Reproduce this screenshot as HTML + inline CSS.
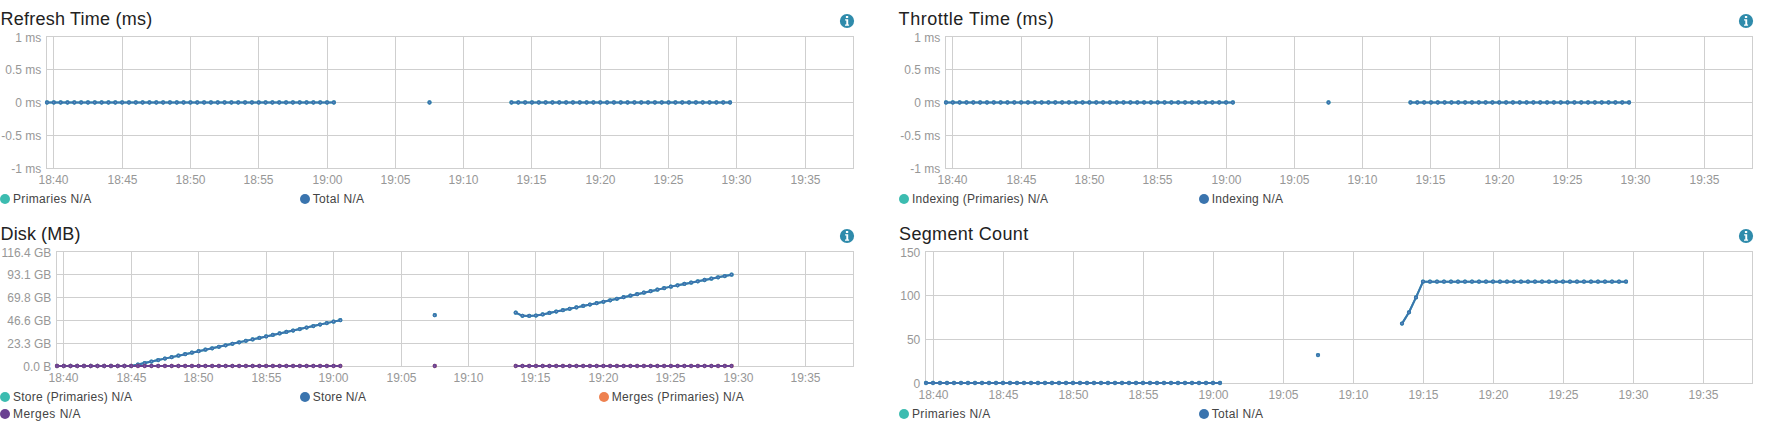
<!DOCTYPE html>
<html lang="en"><head><meta charset="utf-8"><title>Index statistics</title>
<style>
html,body{margin:0;padding:0;background:#fff}
body{width:1769px;height:438px;position:relative;overflow:hidden;font-family:"Liberation Sans",Arial,sans-serif;color:#444}
.panel{position:absolute;width:899px;height:223px}
.title{position:absolute;left:0.6px;top:9px;margin:0;font-size:18px;line-height:20px;font-weight:normal;color:#222;white-space:nowrap}
.info{position:absolute;left:839px;top:13px}
.plot{position:absolute;left:0;top:0;overflow:visible}
.tick text{font-family:"Liberation Sans",Arial,sans-serif;font-size:12px}
.legend{position:absolute;left:0;margin:0;padding:0;list-style:none;font-size:12px;line-height:14px;color:#444}
.legend li{position:absolute;white-space:nowrap;height:14px}
.legend i{position:absolute;left:0;top:2px;width:10px;height:10px;border-radius:50%}
.legend span{position:absolute;left:13px;top:0}
</style></head><body>
<section class="panel" style="left:0px;top:0px">
<h4 class="title" style="left:0.6px;letter-spacing:0.22px">Refresh Time (ms)</h4>
<svg class="info" width="16" height="16" viewBox="0 0 16 16"><circle cx="8" cy="8" r="7.1" fill="#2f8bab"/><path d="M6.9 2.9h2.3v2H6.9z M6.1 6.2h3.1v5.3h0.9v1.3H6v-1.3h1.3V7.6H6.1z" fill="#fff"/></svg>
<svg class="plot" width="899" height="223" viewBox="0 0 899 223">
<path d="M53.5 37V168M122.5 37V168M190.5 37V168M258.5 37V168M327.5 37V168M395.5 37V168M463.5 37V168M531.5 37V168M600.5 37V168M668.5 37V168M736.5 37V168M805.5 37V168M47 69.5H853M47 102.5H853M47 135.5H853" stroke="#cfcfcf" stroke-width="1" fill="none" shape-rendering="crispEdges"/>
<rect x="46.5" y="36.5" width="807" height="132" fill="none" stroke="#cfcfcf" stroke-width="1" shape-rendering="crispEdges"/>
<path d="M47.00 102.50L53.83 102.50L60.66 102.50L67.49 102.50L74.32 102.50L81.15 102.50L87.98 102.50L94.81 102.50L101.64 102.50L108.47 102.50L115.31 102.50L122.14 102.50L128.97 102.50L135.80 102.50L142.63 102.50L149.46 102.50L156.29 102.50L163.12 102.50L169.95 102.50L176.78 102.50L183.61 102.50L190.44 102.50L197.27 102.50L204.10 102.50L210.93 102.50L217.76 102.50L224.59 102.50L231.42 102.50L238.25 102.50L245.08 102.50L251.92 102.50L258.75 102.50L265.58 102.50L272.41 102.50L279.24 102.50L286.07 102.50L292.90 102.50L299.73 102.50L306.56 102.50L313.39 102.50L320.22 102.50L327.05 102.50L333.88 102.50" stroke="#3cbcb0" stroke-width="2" fill="none" stroke-linejoin="round"/>
<path d="M511.47 102.50L518.31 102.50L525.14 102.50L531.97 102.50L538.80 102.50L545.63 102.50L552.46 102.50L559.29 102.50L566.12 102.50L572.95 102.50L579.78 102.50L586.61 102.50L593.44 102.50L600.27 102.50L607.10 102.50L613.93 102.50L620.76 102.50L627.59 102.50L634.42 102.50L641.25 102.50L648.08 102.50L654.92 102.50L661.75 102.50L668.58 102.50L675.41 102.50L682.24 102.50L689.07 102.50L695.90 102.50L702.73 102.50L709.56 102.50L716.39 102.50L723.22 102.50L730.05 102.50" stroke="#3cbcb0" stroke-width="2" fill="none" stroke-linejoin="round"/>
<g fill="#fff" stroke="#3cbcb0" stroke-width="1.78"><circle cx="47.00" cy="102.50" r="1.24"/><circle cx="53.83" cy="102.50" r="1.24"/><circle cx="60.66" cy="102.50" r="1.24"/><circle cx="67.49" cy="102.50" r="1.24"/><circle cx="74.32" cy="102.50" r="1.24"/><circle cx="81.15" cy="102.50" r="1.24"/><circle cx="87.98" cy="102.50" r="1.24"/><circle cx="94.81" cy="102.50" r="1.24"/><circle cx="101.64" cy="102.50" r="1.24"/><circle cx="108.47" cy="102.50" r="1.24"/><circle cx="115.31" cy="102.50" r="1.24"/><circle cx="122.14" cy="102.50" r="1.24"/><circle cx="128.97" cy="102.50" r="1.24"/><circle cx="135.80" cy="102.50" r="1.24"/><circle cx="142.63" cy="102.50" r="1.24"/><circle cx="149.46" cy="102.50" r="1.24"/><circle cx="156.29" cy="102.50" r="1.24"/><circle cx="163.12" cy="102.50" r="1.24"/><circle cx="169.95" cy="102.50" r="1.24"/><circle cx="176.78" cy="102.50" r="1.24"/><circle cx="183.61" cy="102.50" r="1.24"/><circle cx="190.44" cy="102.50" r="1.24"/><circle cx="197.27" cy="102.50" r="1.24"/><circle cx="204.10" cy="102.50" r="1.24"/><circle cx="210.93" cy="102.50" r="1.24"/><circle cx="217.76" cy="102.50" r="1.24"/><circle cx="224.59" cy="102.50" r="1.24"/><circle cx="231.42" cy="102.50" r="1.24"/><circle cx="238.25" cy="102.50" r="1.24"/><circle cx="245.08" cy="102.50" r="1.24"/><circle cx="251.92" cy="102.50" r="1.24"/><circle cx="258.75" cy="102.50" r="1.24"/><circle cx="265.58" cy="102.50" r="1.24"/><circle cx="272.41" cy="102.50" r="1.24"/><circle cx="279.24" cy="102.50" r="1.24"/><circle cx="286.07" cy="102.50" r="1.24"/><circle cx="292.90" cy="102.50" r="1.24"/><circle cx="299.73" cy="102.50" r="1.24"/><circle cx="306.56" cy="102.50" r="1.24"/><circle cx="313.39" cy="102.50" r="1.24"/><circle cx="320.22" cy="102.50" r="1.24"/><circle cx="327.05" cy="102.50" r="1.24"/><circle cx="333.88" cy="102.50" r="1.24"/><circle cx="429.51" cy="102.50" r="1.24"/><circle cx="511.47" cy="102.50" r="1.24"/><circle cx="518.31" cy="102.50" r="1.24"/><circle cx="525.14" cy="102.50" r="1.24"/><circle cx="531.97" cy="102.50" r="1.24"/><circle cx="538.80" cy="102.50" r="1.24"/><circle cx="545.63" cy="102.50" r="1.24"/><circle cx="552.46" cy="102.50" r="1.24"/><circle cx="559.29" cy="102.50" r="1.24"/><circle cx="566.12" cy="102.50" r="1.24"/><circle cx="572.95" cy="102.50" r="1.24"/><circle cx="579.78" cy="102.50" r="1.24"/><circle cx="586.61" cy="102.50" r="1.24"/><circle cx="593.44" cy="102.50" r="1.24"/><circle cx="600.27" cy="102.50" r="1.24"/><circle cx="607.10" cy="102.50" r="1.24"/><circle cx="613.93" cy="102.50" r="1.24"/><circle cx="620.76" cy="102.50" r="1.24"/><circle cx="627.59" cy="102.50" r="1.24"/><circle cx="634.42" cy="102.50" r="1.24"/><circle cx="641.25" cy="102.50" r="1.24"/><circle cx="648.08" cy="102.50" r="1.24"/><circle cx="654.92" cy="102.50" r="1.24"/><circle cx="661.75" cy="102.50" r="1.24"/><circle cx="668.58" cy="102.50" r="1.24"/><circle cx="675.41" cy="102.50" r="1.24"/><circle cx="682.24" cy="102.50" r="1.24"/><circle cx="689.07" cy="102.50" r="1.24"/><circle cx="695.90" cy="102.50" r="1.24"/><circle cx="702.73" cy="102.50" r="1.24"/><circle cx="709.56" cy="102.50" r="1.24"/><circle cx="716.39" cy="102.50" r="1.24"/><circle cx="723.22" cy="102.50" r="1.24"/><circle cx="730.05" cy="102.50" r="1.24"/></g>
<path d="M47.00 102.50L53.83 102.50L60.66 102.50L67.49 102.50L74.32 102.50L81.15 102.50L87.98 102.50L94.81 102.50L101.64 102.50L108.47 102.50L115.31 102.50L122.14 102.50L128.97 102.50L135.80 102.50L142.63 102.50L149.46 102.50L156.29 102.50L163.12 102.50L169.95 102.50L176.78 102.50L183.61 102.50L190.44 102.50L197.27 102.50L204.10 102.50L210.93 102.50L217.76 102.50L224.59 102.50L231.42 102.50L238.25 102.50L245.08 102.50L251.92 102.50L258.75 102.50L265.58 102.50L272.41 102.50L279.24 102.50L286.07 102.50L292.90 102.50L299.73 102.50L306.56 102.50L313.39 102.50L320.22 102.50L327.05 102.50L333.88 102.50" stroke="#3a74ae" stroke-width="2" fill="none" stroke-linejoin="round"/>
<path d="M511.47 102.50L518.31 102.50L525.14 102.50L531.97 102.50L538.80 102.50L545.63 102.50L552.46 102.50L559.29 102.50L566.12 102.50L572.95 102.50L579.78 102.50L586.61 102.50L593.44 102.50L600.27 102.50L607.10 102.50L613.93 102.50L620.76 102.50L627.59 102.50L634.42 102.50L641.25 102.50L648.08 102.50L654.92 102.50L661.75 102.50L668.58 102.50L675.41 102.50L682.24 102.50L689.07 102.50L695.90 102.50L702.73 102.50L709.56 102.50L716.39 102.50L723.22 102.50L730.05 102.50" stroke="#3a74ae" stroke-width="2" fill="none" stroke-linejoin="round"/>
<g fill="#fff" stroke="#3a74ae" stroke-width="1.78"><circle cx="47.00" cy="102.50" r="1.24"/><circle cx="53.83" cy="102.50" r="1.24"/><circle cx="60.66" cy="102.50" r="1.24"/><circle cx="67.49" cy="102.50" r="1.24"/><circle cx="74.32" cy="102.50" r="1.24"/><circle cx="81.15" cy="102.50" r="1.24"/><circle cx="87.98" cy="102.50" r="1.24"/><circle cx="94.81" cy="102.50" r="1.24"/><circle cx="101.64" cy="102.50" r="1.24"/><circle cx="108.47" cy="102.50" r="1.24"/><circle cx="115.31" cy="102.50" r="1.24"/><circle cx="122.14" cy="102.50" r="1.24"/><circle cx="128.97" cy="102.50" r="1.24"/><circle cx="135.80" cy="102.50" r="1.24"/><circle cx="142.63" cy="102.50" r="1.24"/><circle cx="149.46" cy="102.50" r="1.24"/><circle cx="156.29" cy="102.50" r="1.24"/><circle cx="163.12" cy="102.50" r="1.24"/><circle cx="169.95" cy="102.50" r="1.24"/><circle cx="176.78" cy="102.50" r="1.24"/><circle cx="183.61" cy="102.50" r="1.24"/><circle cx="190.44" cy="102.50" r="1.24"/><circle cx="197.27" cy="102.50" r="1.24"/><circle cx="204.10" cy="102.50" r="1.24"/><circle cx="210.93" cy="102.50" r="1.24"/><circle cx="217.76" cy="102.50" r="1.24"/><circle cx="224.59" cy="102.50" r="1.24"/><circle cx="231.42" cy="102.50" r="1.24"/><circle cx="238.25" cy="102.50" r="1.24"/><circle cx="245.08" cy="102.50" r="1.24"/><circle cx="251.92" cy="102.50" r="1.24"/><circle cx="258.75" cy="102.50" r="1.24"/><circle cx="265.58" cy="102.50" r="1.24"/><circle cx="272.41" cy="102.50" r="1.24"/><circle cx="279.24" cy="102.50" r="1.24"/><circle cx="286.07" cy="102.50" r="1.24"/><circle cx="292.90" cy="102.50" r="1.24"/><circle cx="299.73" cy="102.50" r="1.24"/><circle cx="306.56" cy="102.50" r="1.24"/><circle cx="313.39" cy="102.50" r="1.24"/><circle cx="320.22" cy="102.50" r="1.24"/><circle cx="327.05" cy="102.50" r="1.24"/><circle cx="333.88" cy="102.50" r="1.24"/><circle cx="429.51" cy="102.50" r="1.24"/><circle cx="511.47" cy="102.50" r="1.24"/><circle cx="518.31" cy="102.50" r="1.24"/><circle cx="525.14" cy="102.50" r="1.24"/><circle cx="531.97" cy="102.50" r="1.24"/><circle cx="538.80" cy="102.50" r="1.24"/><circle cx="545.63" cy="102.50" r="1.24"/><circle cx="552.46" cy="102.50" r="1.24"/><circle cx="559.29" cy="102.50" r="1.24"/><circle cx="566.12" cy="102.50" r="1.24"/><circle cx="572.95" cy="102.50" r="1.24"/><circle cx="579.78" cy="102.50" r="1.24"/><circle cx="586.61" cy="102.50" r="1.24"/><circle cx="593.44" cy="102.50" r="1.24"/><circle cx="600.27" cy="102.50" r="1.24"/><circle cx="607.10" cy="102.50" r="1.24"/><circle cx="613.93" cy="102.50" r="1.24"/><circle cx="620.76" cy="102.50" r="1.24"/><circle cx="627.59" cy="102.50" r="1.24"/><circle cx="634.42" cy="102.50" r="1.24"/><circle cx="641.25" cy="102.50" r="1.24"/><circle cx="648.08" cy="102.50" r="1.24"/><circle cx="654.92" cy="102.50" r="1.24"/><circle cx="661.75" cy="102.50" r="1.24"/><circle cx="668.58" cy="102.50" r="1.24"/><circle cx="675.41" cy="102.50" r="1.24"/><circle cx="682.24" cy="102.50" r="1.24"/><circle cx="689.07" cy="102.50" r="1.24"/><circle cx="695.90" cy="102.50" r="1.24"/><circle cx="702.73" cy="102.50" r="1.24"/><circle cx="709.56" cy="102.50" r="1.24"/><circle cx="716.39" cy="102.50" r="1.24"/><circle cx="723.22" cy="102.50" r="1.24"/><circle cx="730.05" cy="102.50" r="1.24"/></g>
<g class="tick" fill="#979797">
<text x="41.3" y="41.50" text-anchor="end" style="letter-spacing:0px">1 ms</text>
<text x="41.3" y="74.25" text-anchor="end" style="letter-spacing:0px">0.5 ms</text>
<text x="41.3" y="107.00" text-anchor="end" style="letter-spacing:0px">0 ms</text>
<text x="41.3" y="139.75" text-anchor="end" style="letter-spacing:0px">-0.5 ms</text>
<text x="41.3" y="172.50" text-anchor="end" style="letter-spacing:0px">-1 ms</text>
<text x="53.50" y="184" text-anchor="middle" style="letter-spacing:0px">18:40</text>
<text x="122.50" y="184" text-anchor="middle" style="letter-spacing:0px">18:45</text>
<text x="190.50" y="184" text-anchor="middle" style="letter-spacing:0px">18:50</text>
<text x="258.50" y="184" text-anchor="middle" style="letter-spacing:0px">18:55</text>
<text x="327.50" y="184" text-anchor="middle" style="letter-spacing:0px">19:00</text>
<text x="395.50" y="184" text-anchor="middle" style="letter-spacing:0px">19:05</text>
<text x="463.50" y="184" text-anchor="middle" style="letter-spacing:0px">19:10</text>
<text x="531.50" y="184" text-anchor="middle" style="letter-spacing:0px">19:15</text>
<text x="600.50" y="184" text-anchor="middle" style="letter-spacing:0px">19:20</text>
<text x="668.50" y="184" text-anchor="middle" style="letter-spacing:0px">19:25</text>
<text x="736.50" y="184" text-anchor="middle" style="letter-spacing:0px">19:30</text>
<text x="805.50" y="184" text-anchor="middle" style="letter-spacing:0px">19:35</text>
</g>
</svg>
<ul class="legend" style="top:192px">
<li style="left:0px;top:0px"><i style="background:#3cbcb0"></i><span style="letter-spacing:0.35px">Primaries N/A</span></li>
<li style="left:299.8px;top:0px"><i style="background:#3a74ae"></i><span style="letter-spacing:0.32px">Total N/A</span></li>
</ul>
</section>
<section class="panel" style="left:899px;top:0px">
<h4 class="title" style="left:-0.4px;letter-spacing:0.53px">Throttle Time (ms)</h4>
<svg class="info" width="16" height="16" viewBox="0 0 16 16"><circle cx="8" cy="8" r="7.1" fill="#2f8bab"/><path d="M6.9 2.9h2.3v2H6.9z M6.1 6.2h3.1v5.3h0.9v1.3H6v-1.3h1.3V7.6H6.1z" fill="#fff"/></svg>
<svg class="plot" width="899" height="223" viewBox="899 0 899 223">
<path d="M952.5 37V168M1021.5 37V168M1089.5 37V168M1157.5 37V168M1226.5 37V168M1294.5 37V168M1362.5 37V168M1430.5 37V168M1499.5 37V168M1567.5 37V168M1635.5 37V168M1704.5 37V168M946 69.5H1752M946 102.5H1752M946 135.5H1752" stroke="#cfcfcf" stroke-width="1" fill="none" shape-rendering="crispEdges"/>
<rect x="945.5" y="36.5" width="807" height="132" fill="none" stroke="#cfcfcf" stroke-width="1" shape-rendering="crispEdges"/>
<path d="M946.00 102.50L952.83 102.50L959.66 102.50L966.49 102.50L973.32 102.50L980.15 102.50L986.98 102.50L993.81 102.50L1000.64 102.50L1007.47 102.50L1014.31 102.50L1021.14 102.50L1027.97 102.50L1034.80 102.50L1041.63 102.50L1048.46 102.50L1055.29 102.50L1062.12 102.50L1068.95 102.50L1075.78 102.50L1082.61 102.50L1089.44 102.50L1096.27 102.50L1103.10 102.50L1109.93 102.50L1116.76 102.50L1123.59 102.50L1130.42 102.50L1137.25 102.50L1144.08 102.50L1150.92 102.50L1157.75 102.50L1164.58 102.50L1171.41 102.50L1178.24 102.50L1185.07 102.50L1191.90 102.50L1198.73 102.50L1205.56 102.50L1212.39 102.50L1219.22 102.50L1226.05 102.50L1232.88 102.50" stroke="#3cbcb0" stroke-width="2" fill="none" stroke-linejoin="round"/>
<path d="M1410.47 102.50L1417.31 102.50L1424.14 102.50L1430.97 102.50L1437.80 102.50L1444.63 102.50L1451.46 102.50L1458.29 102.50L1465.12 102.50L1471.95 102.50L1478.78 102.50L1485.61 102.50L1492.44 102.50L1499.27 102.50L1506.10 102.50L1512.93 102.50L1519.76 102.50L1526.59 102.50L1533.42 102.50L1540.25 102.50L1547.08 102.50L1553.92 102.50L1560.75 102.50L1567.58 102.50L1574.41 102.50L1581.24 102.50L1588.07 102.50L1594.90 102.50L1601.73 102.50L1608.56 102.50L1615.39 102.50L1622.22 102.50L1629.05 102.50" stroke="#3cbcb0" stroke-width="2" fill="none" stroke-linejoin="round"/>
<g fill="#fff" stroke="#3cbcb0" stroke-width="1.78"><circle cx="946.00" cy="102.50" r="1.24"/><circle cx="952.83" cy="102.50" r="1.24"/><circle cx="959.66" cy="102.50" r="1.24"/><circle cx="966.49" cy="102.50" r="1.24"/><circle cx="973.32" cy="102.50" r="1.24"/><circle cx="980.15" cy="102.50" r="1.24"/><circle cx="986.98" cy="102.50" r="1.24"/><circle cx="993.81" cy="102.50" r="1.24"/><circle cx="1000.64" cy="102.50" r="1.24"/><circle cx="1007.47" cy="102.50" r="1.24"/><circle cx="1014.31" cy="102.50" r="1.24"/><circle cx="1021.14" cy="102.50" r="1.24"/><circle cx="1027.97" cy="102.50" r="1.24"/><circle cx="1034.80" cy="102.50" r="1.24"/><circle cx="1041.63" cy="102.50" r="1.24"/><circle cx="1048.46" cy="102.50" r="1.24"/><circle cx="1055.29" cy="102.50" r="1.24"/><circle cx="1062.12" cy="102.50" r="1.24"/><circle cx="1068.95" cy="102.50" r="1.24"/><circle cx="1075.78" cy="102.50" r="1.24"/><circle cx="1082.61" cy="102.50" r="1.24"/><circle cx="1089.44" cy="102.50" r="1.24"/><circle cx="1096.27" cy="102.50" r="1.24"/><circle cx="1103.10" cy="102.50" r="1.24"/><circle cx="1109.93" cy="102.50" r="1.24"/><circle cx="1116.76" cy="102.50" r="1.24"/><circle cx="1123.59" cy="102.50" r="1.24"/><circle cx="1130.42" cy="102.50" r="1.24"/><circle cx="1137.25" cy="102.50" r="1.24"/><circle cx="1144.08" cy="102.50" r="1.24"/><circle cx="1150.92" cy="102.50" r="1.24"/><circle cx="1157.75" cy="102.50" r="1.24"/><circle cx="1164.58" cy="102.50" r="1.24"/><circle cx="1171.41" cy="102.50" r="1.24"/><circle cx="1178.24" cy="102.50" r="1.24"/><circle cx="1185.07" cy="102.50" r="1.24"/><circle cx="1191.90" cy="102.50" r="1.24"/><circle cx="1198.73" cy="102.50" r="1.24"/><circle cx="1205.56" cy="102.50" r="1.24"/><circle cx="1212.39" cy="102.50" r="1.24"/><circle cx="1219.22" cy="102.50" r="1.24"/><circle cx="1226.05" cy="102.50" r="1.24"/><circle cx="1232.88" cy="102.50" r="1.24"/><circle cx="1328.51" cy="102.50" r="1.24"/><circle cx="1410.47" cy="102.50" r="1.24"/><circle cx="1417.31" cy="102.50" r="1.24"/><circle cx="1424.14" cy="102.50" r="1.24"/><circle cx="1430.97" cy="102.50" r="1.24"/><circle cx="1437.80" cy="102.50" r="1.24"/><circle cx="1444.63" cy="102.50" r="1.24"/><circle cx="1451.46" cy="102.50" r="1.24"/><circle cx="1458.29" cy="102.50" r="1.24"/><circle cx="1465.12" cy="102.50" r="1.24"/><circle cx="1471.95" cy="102.50" r="1.24"/><circle cx="1478.78" cy="102.50" r="1.24"/><circle cx="1485.61" cy="102.50" r="1.24"/><circle cx="1492.44" cy="102.50" r="1.24"/><circle cx="1499.27" cy="102.50" r="1.24"/><circle cx="1506.10" cy="102.50" r="1.24"/><circle cx="1512.93" cy="102.50" r="1.24"/><circle cx="1519.76" cy="102.50" r="1.24"/><circle cx="1526.59" cy="102.50" r="1.24"/><circle cx="1533.42" cy="102.50" r="1.24"/><circle cx="1540.25" cy="102.50" r="1.24"/><circle cx="1547.08" cy="102.50" r="1.24"/><circle cx="1553.92" cy="102.50" r="1.24"/><circle cx="1560.75" cy="102.50" r="1.24"/><circle cx="1567.58" cy="102.50" r="1.24"/><circle cx="1574.41" cy="102.50" r="1.24"/><circle cx="1581.24" cy="102.50" r="1.24"/><circle cx="1588.07" cy="102.50" r="1.24"/><circle cx="1594.90" cy="102.50" r="1.24"/><circle cx="1601.73" cy="102.50" r="1.24"/><circle cx="1608.56" cy="102.50" r="1.24"/><circle cx="1615.39" cy="102.50" r="1.24"/><circle cx="1622.22" cy="102.50" r="1.24"/><circle cx="1629.05" cy="102.50" r="1.24"/></g>
<path d="M946.00 102.50L952.83 102.50L959.66 102.50L966.49 102.50L973.32 102.50L980.15 102.50L986.98 102.50L993.81 102.50L1000.64 102.50L1007.47 102.50L1014.31 102.50L1021.14 102.50L1027.97 102.50L1034.80 102.50L1041.63 102.50L1048.46 102.50L1055.29 102.50L1062.12 102.50L1068.95 102.50L1075.78 102.50L1082.61 102.50L1089.44 102.50L1096.27 102.50L1103.10 102.50L1109.93 102.50L1116.76 102.50L1123.59 102.50L1130.42 102.50L1137.25 102.50L1144.08 102.50L1150.92 102.50L1157.75 102.50L1164.58 102.50L1171.41 102.50L1178.24 102.50L1185.07 102.50L1191.90 102.50L1198.73 102.50L1205.56 102.50L1212.39 102.50L1219.22 102.50L1226.05 102.50L1232.88 102.50" stroke="#3a74ae" stroke-width="2" fill="none" stroke-linejoin="round"/>
<path d="M1410.47 102.50L1417.31 102.50L1424.14 102.50L1430.97 102.50L1437.80 102.50L1444.63 102.50L1451.46 102.50L1458.29 102.50L1465.12 102.50L1471.95 102.50L1478.78 102.50L1485.61 102.50L1492.44 102.50L1499.27 102.50L1506.10 102.50L1512.93 102.50L1519.76 102.50L1526.59 102.50L1533.42 102.50L1540.25 102.50L1547.08 102.50L1553.92 102.50L1560.75 102.50L1567.58 102.50L1574.41 102.50L1581.24 102.50L1588.07 102.50L1594.90 102.50L1601.73 102.50L1608.56 102.50L1615.39 102.50L1622.22 102.50L1629.05 102.50" stroke="#3a74ae" stroke-width="2" fill="none" stroke-linejoin="round"/>
<g fill="#fff" stroke="#3a74ae" stroke-width="1.78"><circle cx="946.00" cy="102.50" r="1.24"/><circle cx="952.83" cy="102.50" r="1.24"/><circle cx="959.66" cy="102.50" r="1.24"/><circle cx="966.49" cy="102.50" r="1.24"/><circle cx="973.32" cy="102.50" r="1.24"/><circle cx="980.15" cy="102.50" r="1.24"/><circle cx="986.98" cy="102.50" r="1.24"/><circle cx="993.81" cy="102.50" r="1.24"/><circle cx="1000.64" cy="102.50" r="1.24"/><circle cx="1007.47" cy="102.50" r="1.24"/><circle cx="1014.31" cy="102.50" r="1.24"/><circle cx="1021.14" cy="102.50" r="1.24"/><circle cx="1027.97" cy="102.50" r="1.24"/><circle cx="1034.80" cy="102.50" r="1.24"/><circle cx="1041.63" cy="102.50" r="1.24"/><circle cx="1048.46" cy="102.50" r="1.24"/><circle cx="1055.29" cy="102.50" r="1.24"/><circle cx="1062.12" cy="102.50" r="1.24"/><circle cx="1068.95" cy="102.50" r="1.24"/><circle cx="1075.78" cy="102.50" r="1.24"/><circle cx="1082.61" cy="102.50" r="1.24"/><circle cx="1089.44" cy="102.50" r="1.24"/><circle cx="1096.27" cy="102.50" r="1.24"/><circle cx="1103.10" cy="102.50" r="1.24"/><circle cx="1109.93" cy="102.50" r="1.24"/><circle cx="1116.76" cy="102.50" r="1.24"/><circle cx="1123.59" cy="102.50" r="1.24"/><circle cx="1130.42" cy="102.50" r="1.24"/><circle cx="1137.25" cy="102.50" r="1.24"/><circle cx="1144.08" cy="102.50" r="1.24"/><circle cx="1150.92" cy="102.50" r="1.24"/><circle cx="1157.75" cy="102.50" r="1.24"/><circle cx="1164.58" cy="102.50" r="1.24"/><circle cx="1171.41" cy="102.50" r="1.24"/><circle cx="1178.24" cy="102.50" r="1.24"/><circle cx="1185.07" cy="102.50" r="1.24"/><circle cx="1191.90" cy="102.50" r="1.24"/><circle cx="1198.73" cy="102.50" r="1.24"/><circle cx="1205.56" cy="102.50" r="1.24"/><circle cx="1212.39" cy="102.50" r="1.24"/><circle cx="1219.22" cy="102.50" r="1.24"/><circle cx="1226.05" cy="102.50" r="1.24"/><circle cx="1232.88" cy="102.50" r="1.24"/><circle cx="1328.51" cy="102.50" r="1.24"/><circle cx="1410.47" cy="102.50" r="1.24"/><circle cx="1417.31" cy="102.50" r="1.24"/><circle cx="1424.14" cy="102.50" r="1.24"/><circle cx="1430.97" cy="102.50" r="1.24"/><circle cx="1437.80" cy="102.50" r="1.24"/><circle cx="1444.63" cy="102.50" r="1.24"/><circle cx="1451.46" cy="102.50" r="1.24"/><circle cx="1458.29" cy="102.50" r="1.24"/><circle cx="1465.12" cy="102.50" r="1.24"/><circle cx="1471.95" cy="102.50" r="1.24"/><circle cx="1478.78" cy="102.50" r="1.24"/><circle cx="1485.61" cy="102.50" r="1.24"/><circle cx="1492.44" cy="102.50" r="1.24"/><circle cx="1499.27" cy="102.50" r="1.24"/><circle cx="1506.10" cy="102.50" r="1.24"/><circle cx="1512.93" cy="102.50" r="1.24"/><circle cx="1519.76" cy="102.50" r="1.24"/><circle cx="1526.59" cy="102.50" r="1.24"/><circle cx="1533.42" cy="102.50" r="1.24"/><circle cx="1540.25" cy="102.50" r="1.24"/><circle cx="1547.08" cy="102.50" r="1.24"/><circle cx="1553.92" cy="102.50" r="1.24"/><circle cx="1560.75" cy="102.50" r="1.24"/><circle cx="1567.58" cy="102.50" r="1.24"/><circle cx="1574.41" cy="102.50" r="1.24"/><circle cx="1581.24" cy="102.50" r="1.24"/><circle cx="1588.07" cy="102.50" r="1.24"/><circle cx="1594.90" cy="102.50" r="1.24"/><circle cx="1601.73" cy="102.50" r="1.24"/><circle cx="1608.56" cy="102.50" r="1.24"/><circle cx="1615.39" cy="102.50" r="1.24"/><circle cx="1622.22" cy="102.50" r="1.24"/><circle cx="1629.05" cy="102.50" r="1.24"/></g>
<g class="tick" fill="#979797">
<text x="940.3" y="41.50" text-anchor="end" style="letter-spacing:0px">1 ms</text>
<text x="940.3" y="74.25" text-anchor="end" style="letter-spacing:0px">0.5 ms</text>
<text x="940.3" y="107.00" text-anchor="end" style="letter-spacing:0px">0 ms</text>
<text x="940.3" y="139.75" text-anchor="end" style="letter-spacing:0px">-0.5 ms</text>
<text x="940.3" y="172.50" text-anchor="end" style="letter-spacing:0px">-1 ms</text>
<text x="952.50" y="184" text-anchor="middle" style="letter-spacing:0px">18:40</text>
<text x="1021.50" y="184" text-anchor="middle" style="letter-spacing:0px">18:45</text>
<text x="1089.50" y="184" text-anchor="middle" style="letter-spacing:0px">18:50</text>
<text x="1157.50" y="184" text-anchor="middle" style="letter-spacing:0px">18:55</text>
<text x="1226.50" y="184" text-anchor="middle" style="letter-spacing:0px">19:00</text>
<text x="1294.50" y="184" text-anchor="middle" style="letter-spacing:0px">19:05</text>
<text x="1362.50" y="184" text-anchor="middle" style="letter-spacing:0px">19:10</text>
<text x="1430.50" y="184" text-anchor="middle" style="letter-spacing:0px">19:15</text>
<text x="1499.50" y="184" text-anchor="middle" style="letter-spacing:0px">19:20</text>
<text x="1567.50" y="184" text-anchor="middle" style="letter-spacing:0px">19:25</text>
<text x="1635.50" y="184" text-anchor="middle" style="letter-spacing:0px">19:30</text>
<text x="1704.50" y="184" text-anchor="middle" style="letter-spacing:0px">19:35</text>
</g>
</svg>
<ul class="legend" style="top:192px">
<li style="left:0px;top:0px"><i style="background:#3cbcb0"></i><span style="letter-spacing:0.235px">Indexing (Primaries) N/A</span></li>
<li style="left:299.8px;top:0px"><i style="background:#3a74ae"></i><span style="letter-spacing:0.23px">Indexing N/A</span></li>
</ul>
</section>
<section class="panel" style="left:0px;top:215px">
<h4 class="title" style="left:0.6px;letter-spacing:0.1px">Disk (MB)</h4>
<svg class="info" width="16" height="16" viewBox="0 0 16 16"><circle cx="8" cy="8" r="7.1" fill="#2f8bab"/><path d="M6.9 2.9h2.3v2H6.9z M6.1 6.2h3.1v5.3h0.9v1.3H6v-1.3h1.3V7.6H6.1z" fill="#fff"/></svg>
<svg class="plot" width="899" height="223" viewBox="0 215 899 223">
<path d="M63.5 252V366M131.5 252V366M198.5 252V366M266.5 252V366M333.5 252V366M401.5 252V366M468.5 252V366M535.5 252V366M603.5 252V366M670.5 252V366M738.5 252V366M805.5 252V366M57 274.5H853M57 297.5H853M57 320.5H853M57 343.5H853" stroke="#cfcfcf" stroke-width="1" fill="none" shape-rendering="crispEdges"/>
<rect x="56.5" y="251.5" width="797" height="115" fill="none" stroke="#cfcfcf" stroke-width="1" shape-rendering="crispEdges"/>
<path d="M57.00 366.00L63.75 366.00L70.49 366.00L77.24 366.00L83.98 366.00L90.73 366.00L97.47 366.00L104.22 366.00L110.97 366.00L117.71 366.00L124.46 366.00L131.20 366.00L137.95 364.52L144.69 363.04L151.44 361.56L158.19 360.09L164.93 358.61L171.68 357.13L178.42 355.65L185.17 354.17L191.92 352.69L198.66 351.21L205.41 349.73L212.15 348.26L218.90 346.78L225.64 345.30L232.39 343.82L239.14 342.34L245.88 340.86L252.63 339.38L259.37 337.91L266.12 336.43L272.86 334.95L279.61 333.47L286.36 331.99L293.10 330.51L299.85 329.03L306.59 327.55L313.34 326.08L320.08 324.60L326.83 323.12L333.58 321.64L340.32 320.16" stroke="#3cbcb0" stroke-width="2" fill="none" stroke-linejoin="round"/>
<path d="M515.71 312.70L522.46 315.80L529.20 315.90L535.95 315.60L542.69 314.40L549.44 312.98L556.19 311.58L562.93 310.19L569.68 308.79L576.42 307.39L583.17 305.99L589.92 304.59L596.66 303.20L603.41 301.80L610.15 300.28L616.90 298.76L623.64 297.24L630.39 295.73L637.14 294.21L643.88 292.69L650.63 291.17L657.37 289.65L664.12 288.14L670.86 286.63L677.61 285.30L684.36 283.98L691.10 282.65L697.85 281.33L704.59 280.00L711.34 278.68L718.08 277.35L724.83 276.03L731.58 274.70" stroke="#3cbcb0" stroke-width="2" fill="none" stroke-linejoin="round"/>
<g fill="#fff" stroke="#3cbcb0" stroke-width="1.78"><circle cx="57.00" cy="366.00" r="1.24"/><circle cx="63.75" cy="366.00" r="1.24"/><circle cx="70.49" cy="366.00" r="1.24"/><circle cx="77.24" cy="366.00" r="1.24"/><circle cx="83.98" cy="366.00" r="1.24"/><circle cx="90.73" cy="366.00" r="1.24"/><circle cx="97.47" cy="366.00" r="1.24"/><circle cx="104.22" cy="366.00" r="1.24"/><circle cx="110.97" cy="366.00" r="1.24"/><circle cx="117.71" cy="366.00" r="1.24"/><circle cx="124.46" cy="366.00" r="1.24"/><circle cx="131.20" cy="366.00" r="1.24"/><circle cx="137.95" cy="364.52" r="1.24"/><circle cx="144.69" cy="363.04" r="1.24"/><circle cx="151.44" cy="361.56" r="1.24"/><circle cx="158.19" cy="360.09" r="1.24"/><circle cx="164.93" cy="358.61" r="1.24"/><circle cx="171.68" cy="357.13" r="1.24"/><circle cx="178.42" cy="355.65" r="1.24"/><circle cx="185.17" cy="354.17" r="1.24"/><circle cx="191.92" cy="352.69" r="1.24"/><circle cx="198.66" cy="351.21" r="1.24"/><circle cx="205.41" cy="349.73" r="1.24"/><circle cx="212.15" cy="348.26" r="1.24"/><circle cx="218.90" cy="346.78" r="1.24"/><circle cx="225.64" cy="345.30" r="1.24"/><circle cx="232.39" cy="343.82" r="1.24"/><circle cx="239.14" cy="342.34" r="1.24"/><circle cx="245.88" cy="340.86" r="1.24"/><circle cx="252.63" cy="339.38" r="1.24"/><circle cx="259.37" cy="337.91" r="1.24"/><circle cx="266.12" cy="336.43" r="1.24"/><circle cx="272.86" cy="334.95" r="1.24"/><circle cx="279.61" cy="333.47" r="1.24"/><circle cx="286.36" cy="331.99" r="1.24"/><circle cx="293.10" cy="330.51" r="1.24"/><circle cx="299.85" cy="329.03" r="1.24"/><circle cx="306.59" cy="327.55" r="1.24"/><circle cx="313.34" cy="326.08" r="1.24"/><circle cx="320.08" cy="324.60" r="1.24"/><circle cx="326.83" cy="323.12" r="1.24"/><circle cx="333.58" cy="321.64" r="1.24"/><circle cx="340.32" cy="320.16" r="1.24"/><circle cx="434.76" cy="315.20" r="1.24"/><circle cx="515.71" cy="312.70" r="1.24"/><circle cx="522.46" cy="315.80" r="1.24"/><circle cx="529.20" cy="315.90" r="1.24"/><circle cx="535.95" cy="315.60" r="1.24"/><circle cx="542.69" cy="314.40" r="1.24"/><circle cx="549.44" cy="312.98" r="1.24"/><circle cx="556.19" cy="311.58" r="1.24"/><circle cx="562.93" cy="310.19" r="1.24"/><circle cx="569.68" cy="308.79" r="1.24"/><circle cx="576.42" cy="307.39" r="1.24"/><circle cx="583.17" cy="305.99" r="1.24"/><circle cx="589.92" cy="304.59" r="1.24"/><circle cx="596.66" cy="303.20" r="1.24"/><circle cx="603.41" cy="301.80" r="1.24"/><circle cx="610.15" cy="300.28" r="1.24"/><circle cx="616.90" cy="298.76" r="1.24"/><circle cx="623.64" cy="297.24" r="1.24"/><circle cx="630.39" cy="295.73" r="1.24"/><circle cx="637.14" cy="294.21" r="1.24"/><circle cx="643.88" cy="292.69" r="1.24"/><circle cx="650.63" cy="291.17" r="1.24"/><circle cx="657.37" cy="289.65" r="1.24"/><circle cx="664.12" cy="288.14" r="1.24"/><circle cx="670.86" cy="286.63" r="1.24"/><circle cx="677.61" cy="285.30" r="1.24"/><circle cx="684.36" cy="283.98" r="1.24"/><circle cx="691.10" cy="282.65" r="1.24"/><circle cx="697.85" cy="281.33" r="1.24"/><circle cx="704.59" cy="280.00" r="1.24"/><circle cx="711.34" cy="278.68" r="1.24"/><circle cx="718.08" cy="277.35" r="1.24"/><circle cx="724.83" cy="276.03" r="1.24"/><circle cx="731.58" cy="274.70" r="1.24"/></g>
<path d="M57.00 366.00L63.75 366.00L70.49 366.00L77.24 366.00L83.98 366.00L90.73 366.00L97.47 366.00L104.22 366.00L110.97 366.00L117.71 366.00L124.46 366.00L131.20 366.00L137.95 364.52L144.69 363.04L151.44 361.56L158.19 360.09L164.93 358.61L171.68 357.13L178.42 355.65L185.17 354.17L191.92 352.69L198.66 351.21L205.41 349.73L212.15 348.26L218.90 346.78L225.64 345.30L232.39 343.82L239.14 342.34L245.88 340.86L252.63 339.38L259.37 337.91L266.12 336.43L272.86 334.95L279.61 333.47L286.36 331.99L293.10 330.51L299.85 329.03L306.59 327.55L313.34 326.08L320.08 324.60L326.83 323.12L333.58 321.64L340.32 320.16" stroke="#3a74ae" stroke-width="2" fill="none" stroke-linejoin="round"/>
<path d="M515.71 312.70L522.46 315.80L529.20 315.90L535.95 315.60L542.69 314.40L549.44 312.98L556.19 311.58L562.93 310.19L569.68 308.79L576.42 307.39L583.17 305.99L589.92 304.59L596.66 303.20L603.41 301.80L610.15 300.28L616.90 298.76L623.64 297.24L630.39 295.73L637.14 294.21L643.88 292.69L650.63 291.17L657.37 289.65L664.12 288.14L670.86 286.63L677.61 285.30L684.36 283.98L691.10 282.65L697.85 281.33L704.59 280.00L711.34 278.68L718.08 277.35L724.83 276.03L731.58 274.70" stroke="#3a74ae" stroke-width="2" fill="none" stroke-linejoin="round"/>
<g fill="#fff" stroke="#3a74ae" stroke-width="1.78"><circle cx="57.00" cy="366.00" r="1.24"/><circle cx="63.75" cy="366.00" r="1.24"/><circle cx="70.49" cy="366.00" r="1.24"/><circle cx="77.24" cy="366.00" r="1.24"/><circle cx="83.98" cy="366.00" r="1.24"/><circle cx="90.73" cy="366.00" r="1.24"/><circle cx="97.47" cy="366.00" r="1.24"/><circle cx="104.22" cy="366.00" r="1.24"/><circle cx="110.97" cy="366.00" r="1.24"/><circle cx="117.71" cy="366.00" r="1.24"/><circle cx="124.46" cy="366.00" r="1.24"/><circle cx="131.20" cy="366.00" r="1.24"/><circle cx="137.95" cy="364.52" r="1.24"/><circle cx="144.69" cy="363.04" r="1.24"/><circle cx="151.44" cy="361.56" r="1.24"/><circle cx="158.19" cy="360.09" r="1.24"/><circle cx="164.93" cy="358.61" r="1.24"/><circle cx="171.68" cy="357.13" r="1.24"/><circle cx="178.42" cy="355.65" r="1.24"/><circle cx="185.17" cy="354.17" r="1.24"/><circle cx="191.92" cy="352.69" r="1.24"/><circle cx="198.66" cy="351.21" r="1.24"/><circle cx="205.41" cy="349.73" r="1.24"/><circle cx="212.15" cy="348.26" r="1.24"/><circle cx="218.90" cy="346.78" r="1.24"/><circle cx="225.64" cy="345.30" r="1.24"/><circle cx="232.39" cy="343.82" r="1.24"/><circle cx="239.14" cy="342.34" r="1.24"/><circle cx="245.88" cy="340.86" r="1.24"/><circle cx="252.63" cy="339.38" r="1.24"/><circle cx="259.37" cy="337.91" r="1.24"/><circle cx="266.12" cy="336.43" r="1.24"/><circle cx="272.86" cy="334.95" r="1.24"/><circle cx="279.61" cy="333.47" r="1.24"/><circle cx="286.36" cy="331.99" r="1.24"/><circle cx="293.10" cy="330.51" r="1.24"/><circle cx="299.85" cy="329.03" r="1.24"/><circle cx="306.59" cy="327.55" r="1.24"/><circle cx="313.34" cy="326.08" r="1.24"/><circle cx="320.08" cy="324.60" r="1.24"/><circle cx="326.83" cy="323.12" r="1.24"/><circle cx="333.58" cy="321.64" r="1.24"/><circle cx="340.32" cy="320.16" r="1.24"/><circle cx="434.76" cy="315.20" r="1.24"/><circle cx="515.71" cy="312.70" r="1.24"/><circle cx="522.46" cy="315.80" r="1.24"/><circle cx="529.20" cy="315.90" r="1.24"/><circle cx="535.95" cy="315.60" r="1.24"/><circle cx="542.69" cy="314.40" r="1.24"/><circle cx="549.44" cy="312.98" r="1.24"/><circle cx="556.19" cy="311.58" r="1.24"/><circle cx="562.93" cy="310.19" r="1.24"/><circle cx="569.68" cy="308.79" r="1.24"/><circle cx="576.42" cy="307.39" r="1.24"/><circle cx="583.17" cy="305.99" r="1.24"/><circle cx="589.92" cy="304.59" r="1.24"/><circle cx="596.66" cy="303.20" r="1.24"/><circle cx="603.41" cy="301.80" r="1.24"/><circle cx="610.15" cy="300.28" r="1.24"/><circle cx="616.90" cy="298.76" r="1.24"/><circle cx="623.64" cy="297.24" r="1.24"/><circle cx="630.39" cy="295.73" r="1.24"/><circle cx="637.14" cy="294.21" r="1.24"/><circle cx="643.88" cy="292.69" r="1.24"/><circle cx="650.63" cy="291.17" r="1.24"/><circle cx="657.37" cy="289.65" r="1.24"/><circle cx="664.12" cy="288.14" r="1.24"/><circle cx="670.86" cy="286.63" r="1.24"/><circle cx="677.61" cy="285.30" r="1.24"/><circle cx="684.36" cy="283.98" r="1.24"/><circle cx="691.10" cy="282.65" r="1.24"/><circle cx="697.85" cy="281.33" r="1.24"/><circle cx="704.59" cy="280.00" r="1.24"/><circle cx="711.34" cy="278.68" r="1.24"/><circle cx="718.08" cy="277.35" r="1.24"/><circle cx="724.83" cy="276.03" r="1.24"/><circle cx="731.58" cy="274.70" r="1.24"/></g>
<path d="M57.00 366.00L63.75 366.00L70.49 366.00L77.24 366.00L83.98 366.00L90.73 366.00L97.47 366.00L104.22 366.00L110.97 366.00L117.71 366.00L124.46 366.00L131.20 366.00L137.95 366.00L144.69 366.00L151.44 366.00L158.19 366.00L164.93 366.00L171.68 366.00L178.42 366.00L185.17 366.00L191.92 366.00L198.66 366.00L205.41 366.00L212.15 366.00L218.90 366.00L225.64 366.00L232.39 366.00L239.14 366.00L245.88 366.00L252.63 366.00L259.37 366.00L266.12 366.00L272.86 366.00L279.61 366.00L286.36 366.00L293.10 366.00L299.85 366.00L306.59 366.00L313.34 366.00L320.08 366.00L326.83 366.00L333.58 366.00L340.32 366.00" stroke="#ee8150" stroke-width="2" fill="none" stroke-linejoin="round"/>
<path d="M515.71 366.00L522.46 366.00L529.20 366.00L535.95 366.00L542.69 366.00L549.44 366.00L556.19 366.00L562.93 366.00L569.68 366.00L576.42 366.00L583.17 366.00L589.92 366.00L596.66 366.00L603.41 366.00L610.15 366.00L616.90 366.00L623.64 366.00L630.39 366.00L637.14 366.00L643.88 366.00L650.63 366.00L657.37 366.00L664.12 366.00L670.86 366.00L677.61 366.00L684.36 366.00L691.10 366.00L697.85 366.00L704.59 366.00L711.34 366.00L718.08 366.00L724.83 366.00L731.58 366.00" stroke="#ee8150" stroke-width="2" fill="none" stroke-linejoin="round"/>
<g fill="#fff" stroke="#ee8150" stroke-width="1.78"><circle cx="57.00" cy="366.00" r="1.24"/><circle cx="63.75" cy="366.00" r="1.24"/><circle cx="70.49" cy="366.00" r="1.24"/><circle cx="77.24" cy="366.00" r="1.24"/><circle cx="83.98" cy="366.00" r="1.24"/><circle cx="90.73" cy="366.00" r="1.24"/><circle cx="97.47" cy="366.00" r="1.24"/><circle cx="104.22" cy="366.00" r="1.24"/><circle cx="110.97" cy="366.00" r="1.24"/><circle cx="117.71" cy="366.00" r="1.24"/><circle cx="124.46" cy="366.00" r="1.24"/><circle cx="131.20" cy="366.00" r="1.24"/><circle cx="137.95" cy="366.00" r="1.24"/><circle cx="144.69" cy="366.00" r="1.24"/><circle cx="151.44" cy="366.00" r="1.24"/><circle cx="158.19" cy="366.00" r="1.24"/><circle cx="164.93" cy="366.00" r="1.24"/><circle cx="171.68" cy="366.00" r="1.24"/><circle cx="178.42" cy="366.00" r="1.24"/><circle cx="185.17" cy="366.00" r="1.24"/><circle cx="191.92" cy="366.00" r="1.24"/><circle cx="198.66" cy="366.00" r="1.24"/><circle cx="205.41" cy="366.00" r="1.24"/><circle cx="212.15" cy="366.00" r="1.24"/><circle cx="218.90" cy="366.00" r="1.24"/><circle cx="225.64" cy="366.00" r="1.24"/><circle cx="232.39" cy="366.00" r="1.24"/><circle cx="239.14" cy="366.00" r="1.24"/><circle cx="245.88" cy="366.00" r="1.24"/><circle cx="252.63" cy="366.00" r="1.24"/><circle cx="259.37" cy="366.00" r="1.24"/><circle cx="266.12" cy="366.00" r="1.24"/><circle cx="272.86" cy="366.00" r="1.24"/><circle cx="279.61" cy="366.00" r="1.24"/><circle cx="286.36" cy="366.00" r="1.24"/><circle cx="293.10" cy="366.00" r="1.24"/><circle cx="299.85" cy="366.00" r="1.24"/><circle cx="306.59" cy="366.00" r="1.24"/><circle cx="313.34" cy="366.00" r="1.24"/><circle cx="320.08" cy="366.00" r="1.24"/><circle cx="326.83" cy="366.00" r="1.24"/><circle cx="333.58" cy="366.00" r="1.24"/><circle cx="340.32" cy="366.00" r="1.24"/><circle cx="434.76" cy="366.00" r="1.24"/><circle cx="515.71" cy="366.00" r="1.24"/><circle cx="522.46" cy="366.00" r="1.24"/><circle cx="529.20" cy="366.00" r="1.24"/><circle cx="535.95" cy="366.00" r="1.24"/><circle cx="542.69" cy="366.00" r="1.24"/><circle cx="549.44" cy="366.00" r="1.24"/><circle cx="556.19" cy="366.00" r="1.24"/><circle cx="562.93" cy="366.00" r="1.24"/><circle cx="569.68" cy="366.00" r="1.24"/><circle cx="576.42" cy="366.00" r="1.24"/><circle cx="583.17" cy="366.00" r="1.24"/><circle cx="589.92" cy="366.00" r="1.24"/><circle cx="596.66" cy="366.00" r="1.24"/><circle cx="603.41" cy="366.00" r="1.24"/><circle cx="610.15" cy="366.00" r="1.24"/><circle cx="616.90" cy="366.00" r="1.24"/><circle cx="623.64" cy="366.00" r="1.24"/><circle cx="630.39" cy="366.00" r="1.24"/><circle cx="637.14" cy="366.00" r="1.24"/><circle cx="643.88" cy="366.00" r="1.24"/><circle cx="650.63" cy="366.00" r="1.24"/><circle cx="657.37" cy="366.00" r="1.24"/><circle cx="664.12" cy="366.00" r="1.24"/><circle cx="670.86" cy="366.00" r="1.24"/><circle cx="677.61" cy="366.00" r="1.24"/><circle cx="684.36" cy="366.00" r="1.24"/><circle cx="691.10" cy="366.00" r="1.24"/><circle cx="697.85" cy="366.00" r="1.24"/><circle cx="704.59" cy="366.00" r="1.24"/><circle cx="711.34" cy="366.00" r="1.24"/><circle cx="718.08" cy="366.00" r="1.24"/><circle cx="724.83" cy="366.00" r="1.24"/><circle cx="731.58" cy="366.00" r="1.24"/></g>
<path d="M57.00 366.00L63.75 366.00L70.49 366.00L77.24 366.00L83.98 366.00L90.73 366.00L97.47 366.00L104.22 366.00L110.97 366.00L117.71 366.00L124.46 366.00L131.20 366.00L137.95 366.00L144.69 366.00L151.44 366.00L158.19 366.00L164.93 366.00L171.68 366.00L178.42 366.00L185.17 366.00L191.92 366.00L198.66 366.00L205.41 366.00L212.15 366.00L218.90 366.00L225.64 366.00L232.39 366.00L239.14 366.00L245.88 366.00L252.63 366.00L259.37 366.00L266.12 366.00L272.86 366.00L279.61 366.00L286.36 366.00L293.10 366.00L299.85 366.00L306.59 366.00L313.34 366.00L320.08 366.00L326.83 366.00L333.58 366.00L340.32 366.00" stroke="#6a4191" stroke-width="2" fill="none" stroke-linejoin="round"/>
<path d="M515.71 366.00L522.46 366.00L529.20 366.00L535.95 366.00L542.69 366.00L549.44 366.00L556.19 366.00L562.93 366.00L569.68 366.00L576.42 366.00L583.17 366.00L589.92 366.00L596.66 366.00L603.41 366.00L610.15 366.00L616.90 366.00L623.64 366.00L630.39 366.00L637.14 366.00L643.88 366.00L650.63 366.00L657.37 366.00L664.12 366.00L670.86 366.00L677.61 366.00L684.36 366.00L691.10 366.00L697.85 366.00L704.59 366.00L711.34 366.00L718.08 366.00L724.83 366.00L731.58 366.00" stroke="#6a4191" stroke-width="2" fill="none" stroke-linejoin="round"/>
<g fill="#fff" stroke="#6a4191" stroke-width="1.78"><circle cx="57.00" cy="366.00" r="1.24"/><circle cx="63.75" cy="366.00" r="1.24"/><circle cx="70.49" cy="366.00" r="1.24"/><circle cx="77.24" cy="366.00" r="1.24"/><circle cx="83.98" cy="366.00" r="1.24"/><circle cx="90.73" cy="366.00" r="1.24"/><circle cx="97.47" cy="366.00" r="1.24"/><circle cx="104.22" cy="366.00" r="1.24"/><circle cx="110.97" cy="366.00" r="1.24"/><circle cx="117.71" cy="366.00" r="1.24"/><circle cx="124.46" cy="366.00" r="1.24"/><circle cx="131.20" cy="366.00" r="1.24"/><circle cx="137.95" cy="366.00" r="1.24"/><circle cx="144.69" cy="366.00" r="1.24"/><circle cx="151.44" cy="366.00" r="1.24"/><circle cx="158.19" cy="366.00" r="1.24"/><circle cx="164.93" cy="366.00" r="1.24"/><circle cx="171.68" cy="366.00" r="1.24"/><circle cx="178.42" cy="366.00" r="1.24"/><circle cx="185.17" cy="366.00" r="1.24"/><circle cx="191.92" cy="366.00" r="1.24"/><circle cx="198.66" cy="366.00" r="1.24"/><circle cx="205.41" cy="366.00" r="1.24"/><circle cx="212.15" cy="366.00" r="1.24"/><circle cx="218.90" cy="366.00" r="1.24"/><circle cx="225.64" cy="366.00" r="1.24"/><circle cx="232.39" cy="366.00" r="1.24"/><circle cx="239.14" cy="366.00" r="1.24"/><circle cx="245.88" cy="366.00" r="1.24"/><circle cx="252.63" cy="366.00" r="1.24"/><circle cx="259.37" cy="366.00" r="1.24"/><circle cx="266.12" cy="366.00" r="1.24"/><circle cx="272.86" cy="366.00" r="1.24"/><circle cx="279.61" cy="366.00" r="1.24"/><circle cx="286.36" cy="366.00" r="1.24"/><circle cx="293.10" cy="366.00" r="1.24"/><circle cx="299.85" cy="366.00" r="1.24"/><circle cx="306.59" cy="366.00" r="1.24"/><circle cx="313.34" cy="366.00" r="1.24"/><circle cx="320.08" cy="366.00" r="1.24"/><circle cx="326.83" cy="366.00" r="1.24"/><circle cx="333.58" cy="366.00" r="1.24"/><circle cx="340.32" cy="366.00" r="1.24"/><circle cx="434.76" cy="366.00" r="1.24"/><circle cx="515.71" cy="366.00" r="1.24"/><circle cx="522.46" cy="366.00" r="1.24"/><circle cx="529.20" cy="366.00" r="1.24"/><circle cx="535.95" cy="366.00" r="1.24"/><circle cx="542.69" cy="366.00" r="1.24"/><circle cx="549.44" cy="366.00" r="1.24"/><circle cx="556.19" cy="366.00" r="1.24"/><circle cx="562.93" cy="366.00" r="1.24"/><circle cx="569.68" cy="366.00" r="1.24"/><circle cx="576.42" cy="366.00" r="1.24"/><circle cx="583.17" cy="366.00" r="1.24"/><circle cx="589.92" cy="366.00" r="1.24"/><circle cx="596.66" cy="366.00" r="1.24"/><circle cx="603.41" cy="366.00" r="1.24"/><circle cx="610.15" cy="366.00" r="1.24"/><circle cx="616.90" cy="366.00" r="1.24"/><circle cx="623.64" cy="366.00" r="1.24"/><circle cx="630.39" cy="366.00" r="1.24"/><circle cx="637.14" cy="366.00" r="1.24"/><circle cx="643.88" cy="366.00" r="1.24"/><circle cx="650.63" cy="366.00" r="1.24"/><circle cx="657.37" cy="366.00" r="1.24"/><circle cx="664.12" cy="366.00" r="1.24"/><circle cx="670.86" cy="366.00" r="1.24"/><circle cx="677.61" cy="366.00" r="1.24"/><circle cx="684.36" cy="366.00" r="1.24"/><circle cx="691.10" cy="366.00" r="1.24"/><circle cx="697.85" cy="366.00" r="1.24"/><circle cx="704.59" cy="366.00" r="1.24"/><circle cx="711.34" cy="366.00" r="1.24"/><circle cx="718.08" cy="366.00" r="1.24"/><circle cx="724.83" cy="366.00" r="1.24"/><circle cx="731.58" cy="366.00" r="1.24"/></g>
<g class="tick" fill="#979797">
<text x="51.3" y="256.50" text-anchor="end" style="letter-spacing:0px">116.4 GB</text>
<text x="51.3" y="279.30" text-anchor="end" style="letter-spacing:0px">93.1 GB</text>
<text x="51.3" y="302.10" text-anchor="end" style="letter-spacing:0px">69.8 GB</text>
<text x="51.3" y="324.90" text-anchor="end" style="letter-spacing:0px">46.6 GB</text>
<text x="51.3" y="347.70" text-anchor="end" style="letter-spacing:0px">23.3 GB</text>
<text x="51.3" y="370.50" text-anchor="end" style="letter-spacing:0px">0.0 B</text>
<text x="63.50" y="382" text-anchor="middle" style="letter-spacing:0px">18:40</text>
<text x="131.50" y="382" text-anchor="middle" style="letter-spacing:0px">18:45</text>
<text x="198.50" y="382" text-anchor="middle" style="letter-spacing:0px">18:50</text>
<text x="266.50" y="382" text-anchor="middle" style="letter-spacing:0px">18:55</text>
<text x="333.50" y="382" text-anchor="middle" style="letter-spacing:0px">19:00</text>
<text x="401.50" y="382" text-anchor="middle" style="letter-spacing:0px">19:05</text>
<text x="468.50" y="382" text-anchor="middle" style="letter-spacing:0px">19:10</text>
<text x="535.50" y="382" text-anchor="middle" style="letter-spacing:0px">19:15</text>
<text x="603.50" y="382" text-anchor="middle" style="letter-spacing:0px">19:20</text>
<text x="670.50" y="382" text-anchor="middle" style="letter-spacing:0px">19:25</text>
<text x="738.50" y="382" text-anchor="middle" style="letter-spacing:0px">19:30</text>
<text x="805.50" y="382" text-anchor="middle" style="letter-spacing:0px">19:35</text>
</g>
</svg>
<ul class="legend" style="top:175px">
<li style="left:0px;top:0px"><i style="background:#3cbcb0"></i><span style="letter-spacing:0.25px">Store (Primaries) N/A</span></li>
<li style="left:299.8px;top:0px"><i style="background:#3a74ae"></i><span style="letter-spacing:0.15px">Store N/A</span></li>
<li style="left:598.8px;top:0px"><i style="background:#ee8150"></i><span style="letter-spacing:0.31px">Merges (Primaries) N/A</span></li>
<li style="left:0px;top:17px"><i style="background:#6a4191"></i><span style="letter-spacing:0.47px">Merges N/A</span></li>
</ul>
</section>
<section class="panel" style="left:899px;top:215px">
<h4 class="title" style="left:0.1px;letter-spacing:0.33px">Segment Count</h4>
<svg class="info" width="16" height="16" viewBox="0 0 16 16"><circle cx="8" cy="8" r="7.1" fill="#2f8bab"/><path d="M6.9 2.9h2.3v2H6.9z M6.1 6.2h3.1v5.3h0.9v1.3H6v-1.3h1.3V7.6H6.1z" fill="#fff"/></svg>
<svg class="plot" width="899" height="223" viewBox="899 215 899 223">
<path d="M933.5 252V383M1003.5 252V383M1073.5 252V383M1143.5 252V383M1213.5 252V383M1283.5 252V383M1353.5 252V383M1423.5 252V383M1493.5 252V383M1563.5 252V383M1633.5 252V383M1703.5 252V383M926 295.5H1752M926 339.5H1752" stroke="#cfcfcf" stroke-width="1" fill="none" shape-rendering="crispEdges"/>
<rect x="925.5" y="251.5" width="827" height="132" fill="none" stroke="#cfcfcf" stroke-width="1" shape-rendering="crispEdges"/>
<path d="M926.00 383.00L933.00 383.00L940.00 383.00L947.00 383.00L954.00 383.00L961.00 383.00L968.00 383.00L975.00 383.00L982.00 383.00L989.00 383.00L996.00 383.00L1003.00 383.00L1010.00 383.00L1017.00 383.00L1024.00 383.00L1031.00 383.00L1038.00 383.00L1045.00 383.00L1052.00 383.00L1059.00 383.00L1066.00 383.00L1073.00 383.00L1080.00 383.00L1087.00 383.00L1094.00 383.00L1101.00 383.00L1108.00 383.00L1115.00 383.00L1122.00 383.00L1129.00 383.00L1136.00 383.00L1143.00 383.00L1150.00 383.00L1157.00 383.00L1164.00 383.00L1171.00 383.00L1178.00 383.00L1185.00 383.00L1192.00 383.00L1199.00 383.00L1206.00 383.00L1213.00 383.00L1220.00 383.00" stroke="#3cbcb0" stroke-width="2" fill="none" stroke-linejoin="round"/>
<path d="M1402.00 323.61L1409.00 312.26L1416.00 297.41L1423.00 281.69L1430.00 281.69L1437.00 281.69L1444.00 281.69L1451.00 281.69L1458.00 281.69L1465.00 281.69L1472.00 281.69L1479.00 281.69L1486.00 281.69L1493.00 281.69L1500.00 281.69L1507.00 281.69L1514.00 281.69L1521.00 281.69L1528.00 281.69L1535.00 281.69L1542.00 281.69L1549.00 281.69L1556.00 281.69L1563.00 281.69L1570.00 281.69L1577.00 281.69L1584.00 281.69L1591.00 281.69L1598.00 281.69L1605.00 281.69L1612.00 281.69L1619.00 281.69L1626.00 281.69" stroke="#3cbcb0" stroke-width="2" fill="none" stroke-linejoin="round"/>
<g fill="#fff" stroke="#3cbcb0" stroke-width="1.78"><circle cx="926.00" cy="383.00" r="1.24"/><circle cx="933.00" cy="383.00" r="1.24"/><circle cx="940.00" cy="383.00" r="1.24"/><circle cx="947.00" cy="383.00" r="1.24"/><circle cx="954.00" cy="383.00" r="1.24"/><circle cx="961.00" cy="383.00" r="1.24"/><circle cx="968.00" cy="383.00" r="1.24"/><circle cx="975.00" cy="383.00" r="1.24"/><circle cx="982.00" cy="383.00" r="1.24"/><circle cx="989.00" cy="383.00" r="1.24"/><circle cx="996.00" cy="383.00" r="1.24"/><circle cx="1003.00" cy="383.00" r="1.24"/><circle cx="1010.00" cy="383.00" r="1.24"/><circle cx="1017.00" cy="383.00" r="1.24"/><circle cx="1024.00" cy="383.00" r="1.24"/><circle cx="1031.00" cy="383.00" r="1.24"/><circle cx="1038.00" cy="383.00" r="1.24"/><circle cx="1045.00" cy="383.00" r="1.24"/><circle cx="1052.00" cy="383.00" r="1.24"/><circle cx="1059.00" cy="383.00" r="1.24"/><circle cx="1066.00" cy="383.00" r="1.24"/><circle cx="1073.00" cy="383.00" r="1.24"/><circle cx="1080.00" cy="383.00" r="1.24"/><circle cx="1087.00" cy="383.00" r="1.24"/><circle cx="1094.00" cy="383.00" r="1.24"/><circle cx="1101.00" cy="383.00" r="1.24"/><circle cx="1108.00" cy="383.00" r="1.24"/><circle cx="1115.00" cy="383.00" r="1.24"/><circle cx="1122.00" cy="383.00" r="1.24"/><circle cx="1129.00" cy="383.00" r="1.24"/><circle cx="1136.00" cy="383.00" r="1.24"/><circle cx="1143.00" cy="383.00" r="1.24"/><circle cx="1150.00" cy="383.00" r="1.24"/><circle cx="1157.00" cy="383.00" r="1.24"/><circle cx="1164.00" cy="383.00" r="1.24"/><circle cx="1171.00" cy="383.00" r="1.24"/><circle cx="1178.00" cy="383.00" r="1.24"/><circle cx="1185.00" cy="383.00" r="1.24"/><circle cx="1192.00" cy="383.00" r="1.24"/><circle cx="1199.00" cy="383.00" r="1.24"/><circle cx="1206.00" cy="383.00" r="1.24"/><circle cx="1213.00" cy="383.00" r="1.24"/><circle cx="1220.00" cy="383.00" r="1.24"/><circle cx="1318.00" cy="355.05" r="1.24"/><circle cx="1402.00" cy="323.61" r="1.24"/><circle cx="1409.00" cy="312.26" r="1.24"/><circle cx="1416.00" cy="297.41" r="1.24"/><circle cx="1423.00" cy="281.69" r="1.24"/><circle cx="1430.00" cy="281.69" r="1.24"/><circle cx="1437.00" cy="281.69" r="1.24"/><circle cx="1444.00" cy="281.69" r="1.24"/><circle cx="1451.00" cy="281.69" r="1.24"/><circle cx="1458.00" cy="281.69" r="1.24"/><circle cx="1465.00" cy="281.69" r="1.24"/><circle cx="1472.00" cy="281.69" r="1.24"/><circle cx="1479.00" cy="281.69" r="1.24"/><circle cx="1486.00" cy="281.69" r="1.24"/><circle cx="1493.00" cy="281.69" r="1.24"/><circle cx="1500.00" cy="281.69" r="1.24"/><circle cx="1507.00" cy="281.69" r="1.24"/><circle cx="1514.00" cy="281.69" r="1.24"/><circle cx="1521.00" cy="281.69" r="1.24"/><circle cx="1528.00" cy="281.69" r="1.24"/><circle cx="1535.00" cy="281.69" r="1.24"/><circle cx="1542.00" cy="281.69" r="1.24"/><circle cx="1549.00" cy="281.69" r="1.24"/><circle cx="1556.00" cy="281.69" r="1.24"/><circle cx="1563.00" cy="281.69" r="1.24"/><circle cx="1570.00" cy="281.69" r="1.24"/><circle cx="1577.00" cy="281.69" r="1.24"/><circle cx="1584.00" cy="281.69" r="1.24"/><circle cx="1591.00" cy="281.69" r="1.24"/><circle cx="1598.00" cy="281.69" r="1.24"/><circle cx="1605.00" cy="281.69" r="1.24"/><circle cx="1612.00" cy="281.69" r="1.24"/><circle cx="1619.00" cy="281.69" r="1.24"/><circle cx="1626.00" cy="281.69" r="1.24"/></g>
<path d="M926.00 383.00L933.00 383.00L940.00 383.00L947.00 383.00L954.00 383.00L961.00 383.00L968.00 383.00L975.00 383.00L982.00 383.00L989.00 383.00L996.00 383.00L1003.00 383.00L1010.00 383.00L1017.00 383.00L1024.00 383.00L1031.00 383.00L1038.00 383.00L1045.00 383.00L1052.00 383.00L1059.00 383.00L1066.00 383.00L1073.00 383.00L1080.00 383.00L1087.00 383.00L1094.00 383.00L1101.00 383.00L1108.00 383.00L1115.00 383.00L1122.00 383.00L1129.00 383.00L1136.00 383.00L1143.00 383.00L1150.00 383.00L1157.00 383.00L1164.00 383.00L1171.00 383.00L1178.00 383.00L1185.00 383.00L1192.00 383.00L1199.00 383.00L1206.00 383.00L1213.00 383.00L1220.00 383.00" stroke="#3a74ae" stroke-width="2" fill="none" stroke-linejoin="round"/>
<path d="M1402.00 323.61L1409.00 312.26L1416.00 297.41L1423.00 281.69L1430.00 281.69L1437.00 281.69L1444.00 281.69L1451.00 281.69L1458.00 281.69L1465.00 281.69L1472.00 281.69L1479.00 281.69L1486.00 281.69L1493.00 281.69L1500.00 281.69L1507.00 281.69L1514.00 281.69L1521.00 281.69L1528.00 281.69L1535.00 281.69L1542.00 281.69L1549.00 281.69L1556.00 281.69L1563.00 281.69L1570.00 281.69L1577.00 281.69L1584.00 281.69L1591.00 281.69L1598.00 281.69L1605.00 281.69L1612.00 281.69L1619.00 281.69L1626.00 281.69" stroke="#3a74ae" stroke-width="2" fill="none" stroke-linejoin="round"/>
<g fill="#fff" stroke="#3a74ae" stroke-width="1.78"><circle cx="926.00" cy="383.00" r="1.24"/><circle cx="933.00" cy="383.00" r="1.24"/><circle cx="940.00" cy="383.00" r="1.24"/><circle cx="947.00" cy="383.00" r="1.24"/><circle cx="954.00" cy="383.00" r="1.24"/><circle cx="961.00" cy="383.00" r="1.24"/><circle cx="968.00" cy="383.00" r="1.24"/><circle cx="975.00" cy="383.00" r="1.24"/><circle cx="982.00" cy="383.00" r="1.24"/><circle cx="989.00" cy="383.00" r="1.24"/><circle cx="996.00" cy="383.00" r="1.24"/><circle cx="1003.00" cy="383.00" r="1.24"/><circle cx="1010.00" cy="383.00" r="1.24"/><circle cx="1017.00" cy="383.00" r="1.24"/><circle cx="1024.00" cy="383.00" r="1.24"/><circle cx="1031.00" cy="383.00" r="1.24"/><circle cx="1038.00" cy="383.00" r="1.24"/><circle cx="1045.00" cy="383.00" r="1.24"/><circle cx="1052.00" cy="383.00" r="1.24"/><circle cx="1059.00" cy="383.00" r="1.24"/><circle cx="1066.00" cy="383.00" r="1.24"/><circle cx="1073.00" cy="383.00" r="1.24"/><circle cx="1080.00" cy="383.00" r="1.24"/><circle cx="1087.00" cy="383.00" r="1.24"/><circle cx="1094.00" cy="383.00" r="1.24"/><circle cx="1101.00" cy="383.00" r="1.24"/><circle cx="1108.00" cy="383.00" r="1.24"/><circle cx="1115.00" cy="383.00" r="1.24"/><circle cx="1122.00" cy="383.00" r="1.24"/><circle cx="1129.00" cy="383.00" r="1.24"/><circle cx="1136.00" cy="383.00" r="1.24"/><circle cx="1143.00" cy="383.00" r="1.24"/><circle cx="1150.00" cy="383.00" r="1.24"/><circle cx="1157.00" cy="383.00" r="1.24"/><circle cx="1164.00" cy="383.00" r="1.24"/><circle cx="1171.00" cy="383.00" r="1.24"/><circle cx="1178.00" cy="383.00" r="1.24"/><circle cx="1185.00" cy="383.00" r="1.24"/><circle cx="1192.00" cy="383.00" r="1.24"/><circle cx="1199.00" cy="383.00" r="1.24"/><circle cx="1206.00" cy="383.00" r="1.24"/><circle cx="1213.00" cy="383.00" r="1.24"/><circle cx="1220.00" cy="383.00" r="1.24"/><circle cx="1318.00" cy="355.05" r="1.24"/><circle cx="1402.00" cy="323.61" r="1.24"/><circle cx="1409.00" cy="312.26" r="1.24"/><circle cx="1416.00" cy="297.41" r="1.24"/><circle cx="1423.00" cy="281.69" r="1.24"/><circle cx="1430.00" cy="281.69" r="1.24"/><circle cx="1437.00" cy="281.69" r="1.24"/><circle cx="1444.00" cy="281.69" r="1.24"/><circle cx="1451.00" cy="281.69" r="1.24"/><circle cx="1458.00" cy="281.69" r="1.24"/><circle cx="1465.00" cy="281.69" r="1.24"/><circle cx="1472.00" cy="281.69" r="1.24"/><circle cx="1479.00" cy="281.69" r="1.24"/><circle cx="1486.00" cy="281.69" r="1.24"/><circle cx="1493.00" cy="281.69" r="1.24"/><circle cx="1500.00" cy="281.69" r="1.24"/><circle cx="1507.00" cy="281.69" r="1.24"/><circle cx="1514.00" cy="281.69" r="1.24"/><circle cx="1521.00" cy="281.69" r="1.24"/><circle cx="1528.00" cy="281.69" r="1.24"/><circle cx="1535.00" cy="281.69" r="1.24"/><circle cx="1542.00" cy="281.69" r="1.24"/><circle cx="1549.00" cy="281.69" r="1.24"/><circle cx="1556.00" cy="281.69" r="1.24"/><circle cx="1563.00" cy="281.69" r="1.24"/><circle cx="1570.00" cy="281.69" r="1.24"/><circle cx="1577.00" cy="281.69" r="1.24"/><circle cx="1584.00" cy="281.69" r="1.24"/><circle cx="1591.00" cy="281.69" r="1.24"/><circle cx="1598.00" cy="281.69" r="1.24"/><circle cx="1605.00" cy="281.69" r="1.24"/><circle cx="1612.00" cy="281.69" r="1.24"/><circle cx="1619.00" cy="281.69" r="1.24"/><circle cx="1626.00" cy="281.69" r="1.24"/></g>
<g class="tick" fill="#979797">
<text x="920.3" y="256.50" text-anchor="end" style="letter-spacing:0px">150</text>
<text x="920.3" y="300.17" text-anchor="end" style="letter-spacing:0px">100</text>
<text x="920.3" y="343.83" text-anchor="end" style="letter-spacing:0px">50</text>
<text x="920.3" y="387.50" text-anchor="end" style="letter-spacing:0px">0</text>
<text x="933.50" y="399" text-anchor="middle" style="letter-spacing:0px">18:40</text>
<text x="1003.50" y="399" text-anchor="middle" style="letter-spacing:0px">18:45</text>
<text x="1073.50" y="399" text-anchor="middle" style="letter-spacing:0px">18:50</text>
<text x="1143.50" y="399" text-anchor="middle" style="letter-spacing:0px">18:55</text>
<text x="1213.50" y="399" text-anchor="middle" style="letter-spacing:0px">19:00</text>
<text x="1283.50" y="399" text-anchor="middle" style="letter-spacing:0px">19:05</text>
<text x="1353.50" y="399" text-anchor="middle" style="letter-spacing:0px">19:10</text>
<text x="1423.50" y="399" text-anchor="middle" style="letter-spacing:0px">19:15</text>
<text x="1493.50" y="399" text-anchor="middle" style="letter-spacing:0px">19:20</text>
<text x="1563.50" y="399" text-anchor="middle" style="letter-spacing:0px">19:25</text>
<text x="1633.50" y="399" text-anchor="middle" style="letter-spacing:0px">19:30</text>
<text x="1703.50" y="399" text-anchor="middle" style="letter-spacing:0px">19:35</text>
</g>
</svg>
<ul class="legend" style="top:192px">
<li style="left:0px;top:0px"><i style="background:#3cbcb0"></i><span style="letter-spacing:0.35px">Primaries N/A</span></li>
<li style="left:299.8px;top:0px"><i style="background:#3a74ae"></i><span style="letter-spacing:0.32px">Total N/A</span></li>
</ul>
</section>
</body></html>
